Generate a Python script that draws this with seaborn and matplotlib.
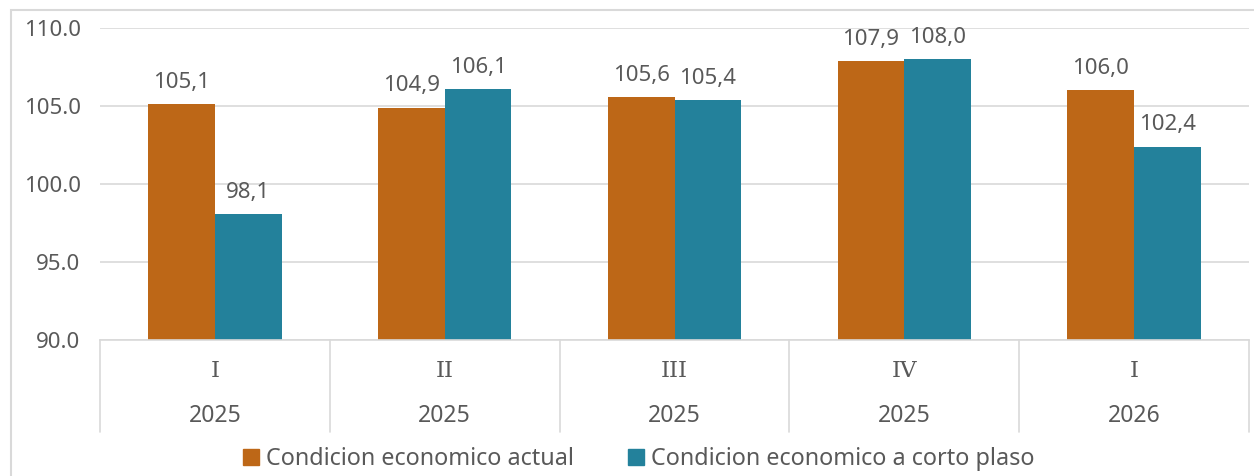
import pandas as pd
import matplotlib
matplotlib.use("Agg")
import matplotlib.pyplot as plt
import matplotlib.transforms as mtransforms
from matplotlib.patches import Rectangle
import seaborn as sns

# data
quarters = ["I", "II", "III", "IV", "I"]
years = ["2025", "2025", "2025", "2025", "2026"]
actual = [105.1, 104.9, 105.6, 107.9, 106.0]
short_term = [98.1, 106.1, 105.4, 108.0, 102.4]
series_names = ["Condicion economico actual", "Condicion economico a corto plaso"]
colors = ["#BD6717", "#23819B"]

TEXT = "#595959"
GRID = "#D9D9D9"

sns.set_theme(style="white")
plt.rcParams["font.family"] = ["Noto Sans", "DejaVu Sans"]

periods = [f"{q} {y}" for q, y in zip(quarters, years)]
df = pd.DataFrame({
    "period": periods * 2,
    "value": actual + short_term,
    "series": [series_names[0]] * 5 + [series_names[1]] * 5,
})

W, H = 1254, 476
fig = plt.figure(figsize=(W / 100, H / 100), dpi=100)
ax = fig.add_axes([100 / W, 1 - 340 / H, 1149 / W, 312 / H])

sns.barplot(data=df, x="period", y="value", hue="series", order=periods,
            hue_order=series_names, palette=colors, saturation=1,
            width=0.58, linewidth=0, ax=ax, legend=False)

ax.set_ylim(90, 110)
ax.set_xlim(-0.5, 4.5)
ax.set_yticks([90, 95, 100, 105, 110])
ax.set_yticklabels([f"{v:.1f}" for v in [90, 95, 100, 105, 110]],
                   fontsize=16, color=TEXT)
ax.tick_params(axis="y", length=0, pad=14)
ax.set_xticks([])
ax.set_xlabel("")
ax.set_ylabel("")
ax.yaxis.grid(True, color=GRID, linewidth=1.2)
ax.set_axisbelow(True)
for s in ["top", "right", "left"]:
    ax.spines[s].set_visible(False)
ax.spines["bottom"].set_color(GRID)
ax.spines["bottom"].set_linewidth(1.2)

for cont in ax.containers:
    vals = cont.datavalues
    ax.bar_label(cont, labels=[f"{v:.1f}".replace(".", ",") for v in vals],
                 padding=8, fontsize=16, color=TEXT)

# two-level category axis
trans = mtransforms.blended_transform_factory(ax.transData, ax.transAxes)
depth = 92 / 312
for i in range(6):
    ax.plot([i - 0.5, i - 0.5], [0, -depth], transform=trans, color=GRID,
            linewidth=1.2, clip_on=False)
for i, (q, y) in enumerate(zip(quarters, years)):
    ax.text(i, -31 / 312, q, transform=trans, ha="center", va="center",
            fontsize=16.5, color=TEXT, family=["DejaVu Serif"])
    ax.text(i, -76 / 312, y, transform=trans, ha="center", va="center",
            fontsize=16.5, color=TEXT)

handles = [Rectangle((0, 0), 1, 1, color=c) for c in colors]
fig.legend(handles, series_names, loc="center",
           bbox_to_anchor=(639 / W, 1 - 459 / H),
           ncol=2, frameon=False, fontsize=16.8, labelcolor=TEXT,
           handlelength=0.7, handleheight=0.7, handletextpad=0.3,
           columnspacing=2.3)

# chart border
fig.patches.append(Rectangle((11 / W, -0.05), 1.1, 1 - 10 / H + 0.05,
                             transform=fig.transFigure, fill=False,
                             edgecolor=GRID, linewidth=1.5))

fig.savefig("out.png", dpi=100)
